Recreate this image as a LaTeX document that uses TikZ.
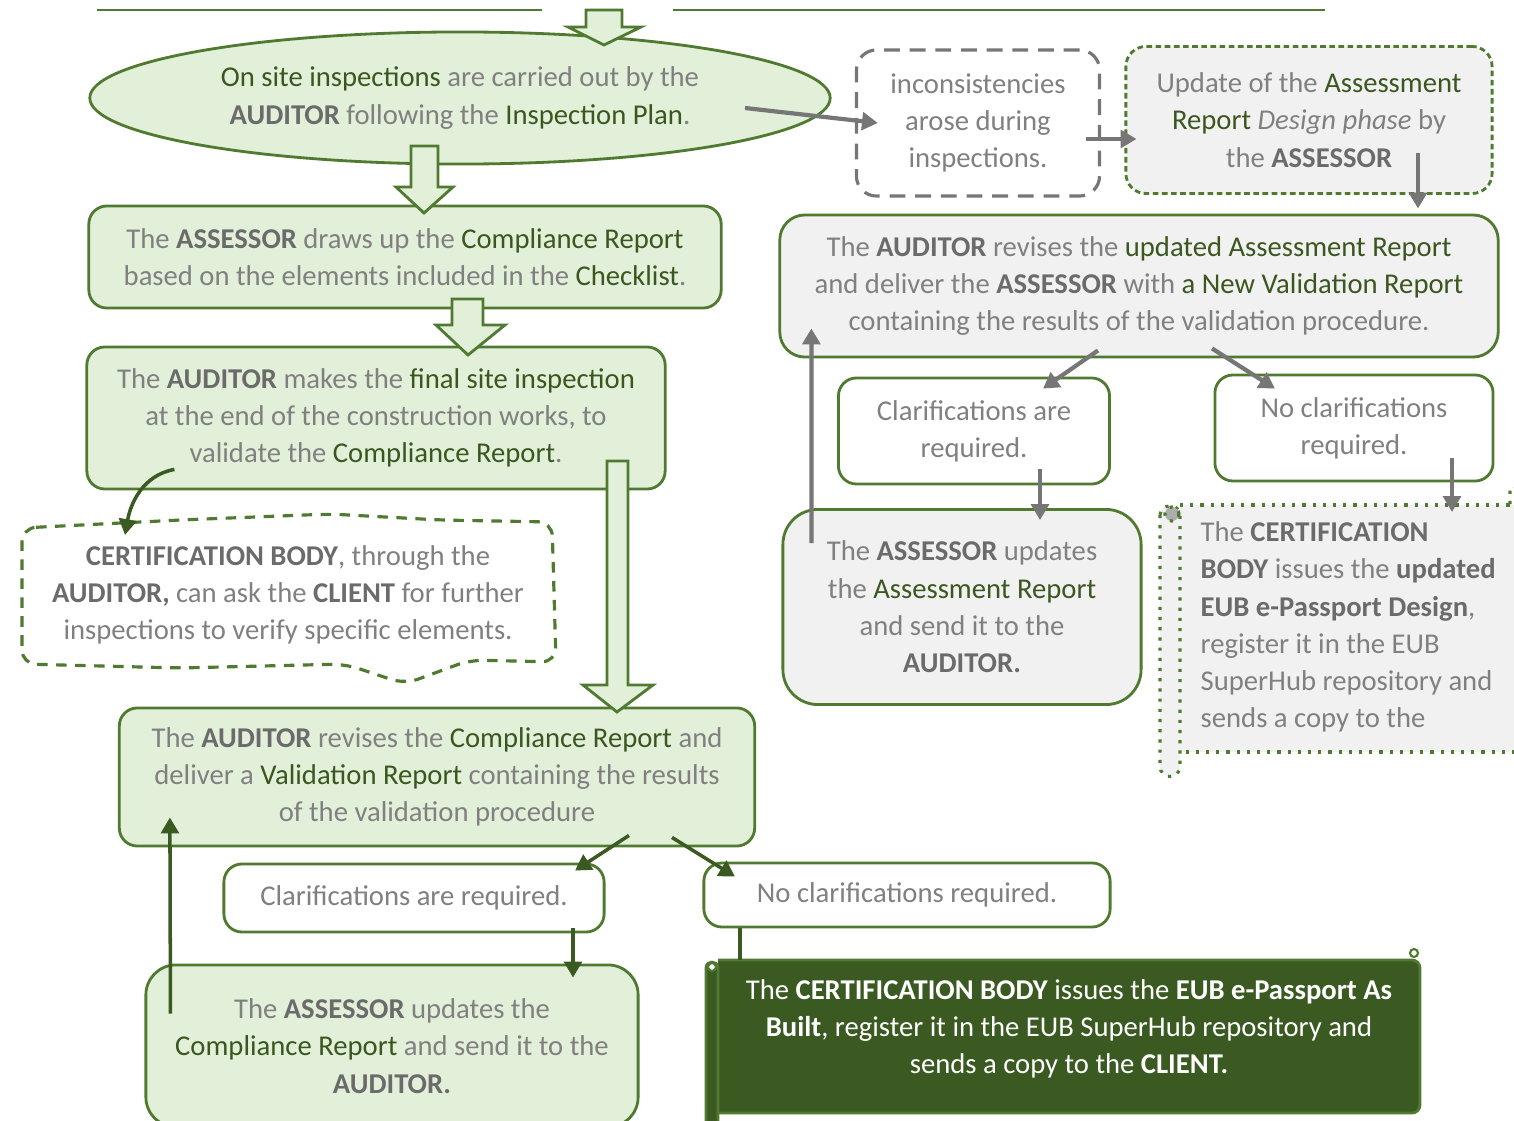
\documentclass[tikz,border=0pt]{standalone}
\usepackage{fontspec}
\setmainfont{Carlito}
\usepackage{xcolor}
\usepackage{tikz}
\usetikzlibrary{calc,arrows.meta,shapes.geometric}

\definecolor{boxgreen}{HTML}{E2EFD9}
\definecolor{edgegreen}{HTML}{4F7A30}
\definecolor{darkgreen}{HTML}{3A5A22}
\definecolor{boxgray}{HTML}{F1F1F1}
\definecolor{txtgray}{HTML}{808080}
\definecolor{actgray}{HTML}{6B6B6B}
\definecolor{kwgreen}{HTML}{3B571F}
\definecolor{arrowgray}{HTML}{767676}

\newcommand{\kw}[1]{\textcolor{kwgreen}{#1}}
\newcommand{\ac}[1]{\textbf{\textcolor{actgray}{#1}}}

\tikzset{
	every node/.style={font=\fontsize{8.15}{10.6}\selectfont, text=txtgray},
	greenbox/.style={draw=edgegreen, line width=0.8pt, fill=boxgreen, rounded corners=0.18cm, align=center, inner sep=0pt},
	graybox/.style={greenbox, fill=boxgray},
	whitebox/.style={greenbox, fill=white},
	blockarrow/.style={draw=edgegreen, line width=0.8pt, fill=boxgreen},
	grayarrow/.style={draw=arrowgray, line width=1.2pt, -{Triangle[length=4.5pt,width=5pt]}},
	greenarrow/.style={draw=darkgreen, line width=1pt, -{Triangle[length=4.5pt,width=5pt]}},
	scrolledge/.style={draw=edgegreen, line width=0.9pt, dotted}
}

\begin{document}
\begin{tikzpicture}[x=0.01cm,y=-0.01cm]
	\useasboundingbox (0,0) rectangle (1514,1121);
	% end of the previous step
	\draw[edgegreen, line width=0.5pt] (97,10) -- (542,10);
	\draw[edgegreen, line width=0.5pt] (673,10) -- (1325,10);

	% left column
	\node(onsite)[draw=edgegreen, line width=0.8pt, fill=boxgreen, ellipse, align=center, inner sep=0pt, minimum width=7.40cm, minimum height=1.32cm] at (460,98)
	{\kw{On site inspections} are carried out by the\\ \ac{AUDITOR} following the \kw{Inspection Plan}.};
	\node(compl)[greenbox, minimum width=6.32cm, minimum height=1.02cm] at (405,257)
	{The \ac{ASSESSOR} draws up the \kw{Compliance Report}\\ based on the elements included in the \kw{Checklist}.};
	\node(finalinsp)[greenbox, minimum width=5.78cm, minimum height=1.42cm] at (376,418)
	{The \ac{AUDITOR} makes the \kw{final site inspection}\\ at the end of the construction works, to\\ validate the \kw{Compliance Report}.};

	% cloud with further inspections
	\draw[edgegreen, line width=0.9pt, dash pattern=on 3pt off 2.4pt, rounded corners=0.14cm]
		(22,528) -- (180,520) -- (330,514) -- (440,520) -- (552,522) -- (556,662) -- (470,660) -- (405,684) -- (345,664) -- (180,668) -- (22,664) -- cycle;
	\node(further)[align=center] at (288,595)
	{\ac{CERTIFICATION BODY}, through the\\ \ac{AUDITOR,} can ask the \ac{CLIENT} for further\\ inspections to verify specific elements.};
	\coordinate(cloudin) at (125,535);

	\node(revcompl)[greenbox, minimum width=6.35cm, minimum height=1.38cm] at (437,777)
	{The \ac{AUDITOR} revises the \kw{Compliance Report} and\\ deliver a \kw{Validation Report} containing the results\\ of the validation procedure};
	\node(clarleft)[whitebox, minimum width=3.80cm, minimum height=0.68cm] at (414,898) {Clarifications are required.};
	\node(noclarleft)[whitebox, minimum width=4.06cm, minimum height=0.64cm] at (907,895) {No clarifications required.};
	\node(updcompl)[greenbox, rounded corners=0.3cm, minimum width=4.92cm, minimum height=1.62cm] at (392,1046)
	{The \ac{ASSESSOR} updates the\\ \kw{Compliance Report} and send it to the\\ \ac{AUDITOR.}};

	% block arrows
	\draw[blockarrow] (586,10) -- (622,10) -- (622,27) -- (641,27) -- (604,45) -- (568,27) -- (586,27) -- cycle;
	\draw[blockarrow] (411,146) -- (438,146) -- (438,187) -- (453,187) -- (424,213) -- (396,187) -- (411,187) -- cycle;
	\draw[blockarrow] (452,299) -- (483,299) -- (483,325) -- (505,325) -- (468,355) -- (436,325) -- (452,325) -- cycle;
	\draw[blockarrow] (607,461) -- (628,461) -- (628,685) -- (653,685) -- (617,712) -- (583,685) -- (607,685) -- cycle;

	% right column
	\node(incons)[draw=arrowgray, line width=0.9pt, dash pattern=on 4.5pt off 2.8pt, rounded corners=0.2cm, fill=white, align=center, inner sep=0pt, minimum width=2.43cm, minimum height=1.46cm] at (978,123)
	{inconsistencies\\ arose during\\ inspections.};
	\node(updassess)[draw=edgegreen, line width=0.8pt, dash pattern=on 1.6pt off 1pt, rounded corners=0.2cm, fill=boxgray, align=center, inner sep=0pt, minimum width=3.66cm, minimum height=1.47cm] at (1309,120)
	{Update of the \kw{Assessment}\\ \kw{Report} \textit{Design phase} by\\ the \ac{ASSESSOR}};
	\node(revassess)[graybox, rounded corners=0.25cm, minimum width=7.18cm, minimum height=1.42cm] at (1139,286)
	{The \ac{AUDITOR} revises the \kw{updated Assessment Report}\\ and deliver the \ac{ASSESSOR} with \kw{a New Validation Report}\\ containing the results of the validation procedure.};
	\node(clarright)[whitebox, minimum width=2.71cm, minimum height=1.06cm] at (974,431) {Clarifications are\\ required.};
	\node(noclarright)[whitebox, minimum width=2.78cm, minimum height=1.06cm] at (1354,428) {No clarifications\\ required.};
	\node(updassess2)[graybox, rounded corners=0.35cm, minimum width=3.58cm, minimum height=1.95cm] at (962,607)
	{The \ac{ASSESSOR} updates\\ the \kw{Assessment Report}\\ and send it to the\\ \ac{AUDITOR.}};

	% scroll of the updated design passport
	\draw[scrolledge, fill=boxgray] (1180,505) -- (1530,505) -- (1530,752) -- (1180,752);
	\draw[scrolledge, fill=boxgray] (1160,515) -- (1160,766) .. controls (1160,780) and (1180,780) .. (1180,766) -- (1180,515) .. controls (1180,503) and (1160,503) .. cycle;
	\draw[scrolledge, fill=arrowgray!60] (1172,514) circle[radius=0.07cm];
	\draw[scrolledge] (1510,504) -- (1510,492) .. controls (1510,484) and (1518,484) .. (1518,492);
	\node(certdesign)[anchor=west, align=left, inner sep=0pt] at (1200,627)
	{The \ac{CERTIFICATION}\\ \ac{BODY} issues the \ac{updated}\\ \ac{EUB e-Passport Design},\\ register it in the EUB\\ SuperHub repository and\\ sends a copy to the};
	\coordinate(designtop) at (1452,512);

	% scroll of the as built passport
	\draw[edgegreen, line width=0.8pt, fill=darkgreen, rounded corners=0.08cm] (718,960) -- (1420,960) -- (1420,1113) -- (718,1113);
	\draw[edgegreen, line width=0.8pt, fill=darkgreen] (706,968) -- (706,1130) -- (718,1130) -- (718,968) .. controls (718,960) and (706,960) .. cycle;
	\draw[edgegreen, line width=0.6pt, fill=white] (712,967) circle[radius=0.04cm];
	\draw[edgegreen, line width=0.6pt, fill=white] (1414,953) circle[radius=0.04cm];
	\node(certbuilt)[align=center, text=white] at (1069,1029)
	{The \textbf{CERTIFICATION BODY} issues the \textbf{EUB e-Passport As}\\ \textbf{Built}, register it in the EUB SuperHub repository and\\ sends a copy to the \textbf{CLIENT.}};
	\coordinate(builttop) at (740,960);

	% connectors
	\draw[grayarrow] ($(onsite.center)+(285,10)$) -- ($(incons.west)+(23,0)$);
	\draw[grayarrow] ($(incons.east)+(-15,16)$) -- ($(updassess.west)+(12,19)$);
	\draw[grayarrow] ($(updassess.south)+(109,-42)$) -- ($(revassess.north)+(279,-5)$);
	\draw[grayarrow] ($(revassess.south)+(-41,-8)$) -- ($(clarright.north)+(69,12)$);
	\draw[grayarrow] ($(revassess.south)+(73,-10)$) -- ($(noclarright.north)+(-79,15)$);
	\draw[grayarrow] ($(clarright.south)+(66,-16)$) -- ($(updassess2.north)+(78,12)$);
	\draw[grayarrow] ($(updassess2.north west)+(30,35)$) -- ($(revassess.south west)+(33,-30)$);
	\draw[grayarrow] ($(noclarright.south)+(98,-24)$) -- (designtop);

	\draw[greenarrow] ($(finalinsp.south west)+(89,-21)$) to[out=190,in=80] (cloudin);
	\draw[greenarrow] ($(revcompl.south)+(192,-12)$) -- ($(clarleft.north)+(161,8)$);
	\draw[greenarrow] ($(revcompl.south)+(235,-10)$) -- ($(noclarleft.north)+(-172,15)$);
	\draw[greenarrow] ($(clarleft.south)+(159,-5)$) -- ($(updcompl.north)+(181,14)$);
	\draw[greenarrow] ($(updcompl.north west)+(26,50)$) -- ($(revcompl.south west)+(52,-30)$);
	\draw[darkgreen, line width=1.2pt] ($(noclarleft.south)+(-167,0)$) -- (builttop);
\end{tikzpicture}
\end{document}
